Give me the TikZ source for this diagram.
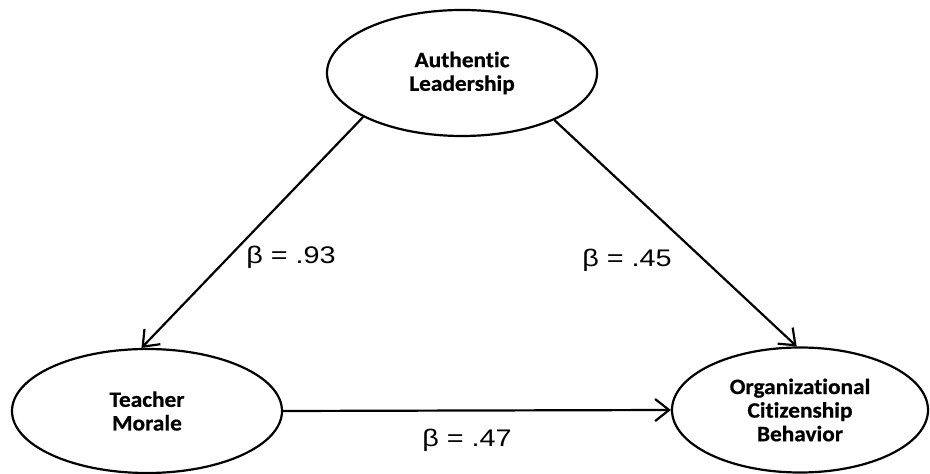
\documentclass[tikz,border=0pt]{standalone}
\usepackage{fontspec}
\usepackage{tikz}
\usetikzlibrary{positioning, arrows.meta, shapes.geometric}

\newfontfamily\varfont[FakeStretch=1.06, Ligatures={NoCommon, NoRequired, NoContextual},
    Contextuals=NoAlternate, RawFeature={-liga;-clig;-calt;-dlig},
    BoldFeatures={FakeBold=0.6}]{Carlito}
\newfontfamily\coeffont[FakeStretch=1.2]{Liberation Sans}

\begin{document}
\begin{tikzpicture}[
            x=0.5pt, y=-0.5pt,
            >={Straight Barb[length=7pt, width=11pt]},
            latent/.style={ellipse, draw, line width=1.1pt, inner sep=0pt, align=center,
                    font=\varfont\bfseries\fontsize{11}{11.8}\selectfont},
            coef/.style={inner sep=1pt, font=\coeffont\fontsize{12}{14}\selectfont},
            path/.style={->, line width=1.1pt},
            ]

            \useasboundingbox (0,0) rectangle (930,474);

            \node[latent, minimum width=135pt, minimum height=63pt] (auth) at (462,73) {Authentic\\Leadership};
            \node[latent, minimum width=135pt, minimum height=62pt] (morale) at (147,411) {Teacher\\Morale};
            \node[latent, minimum width=128pt, minimum height=62.5pt] (ocb) at (800,410) {Organizational\\Citizenship\\Behavior};

            \node[coef] (b93) at (291,257) {β = .93};
            \node[coef] (b45) at (627,260) {β = .45};
            \node[coef] (b47) at (467,440) {β = .47};

            \draw[path] (auth.204) -- (morale.95);
            \draw[path] (auth.333) -- (ocb.93);
            \draw[path] (morale.east) -- (ocb.west);

        \end{tikzpicture}
\end{document}
